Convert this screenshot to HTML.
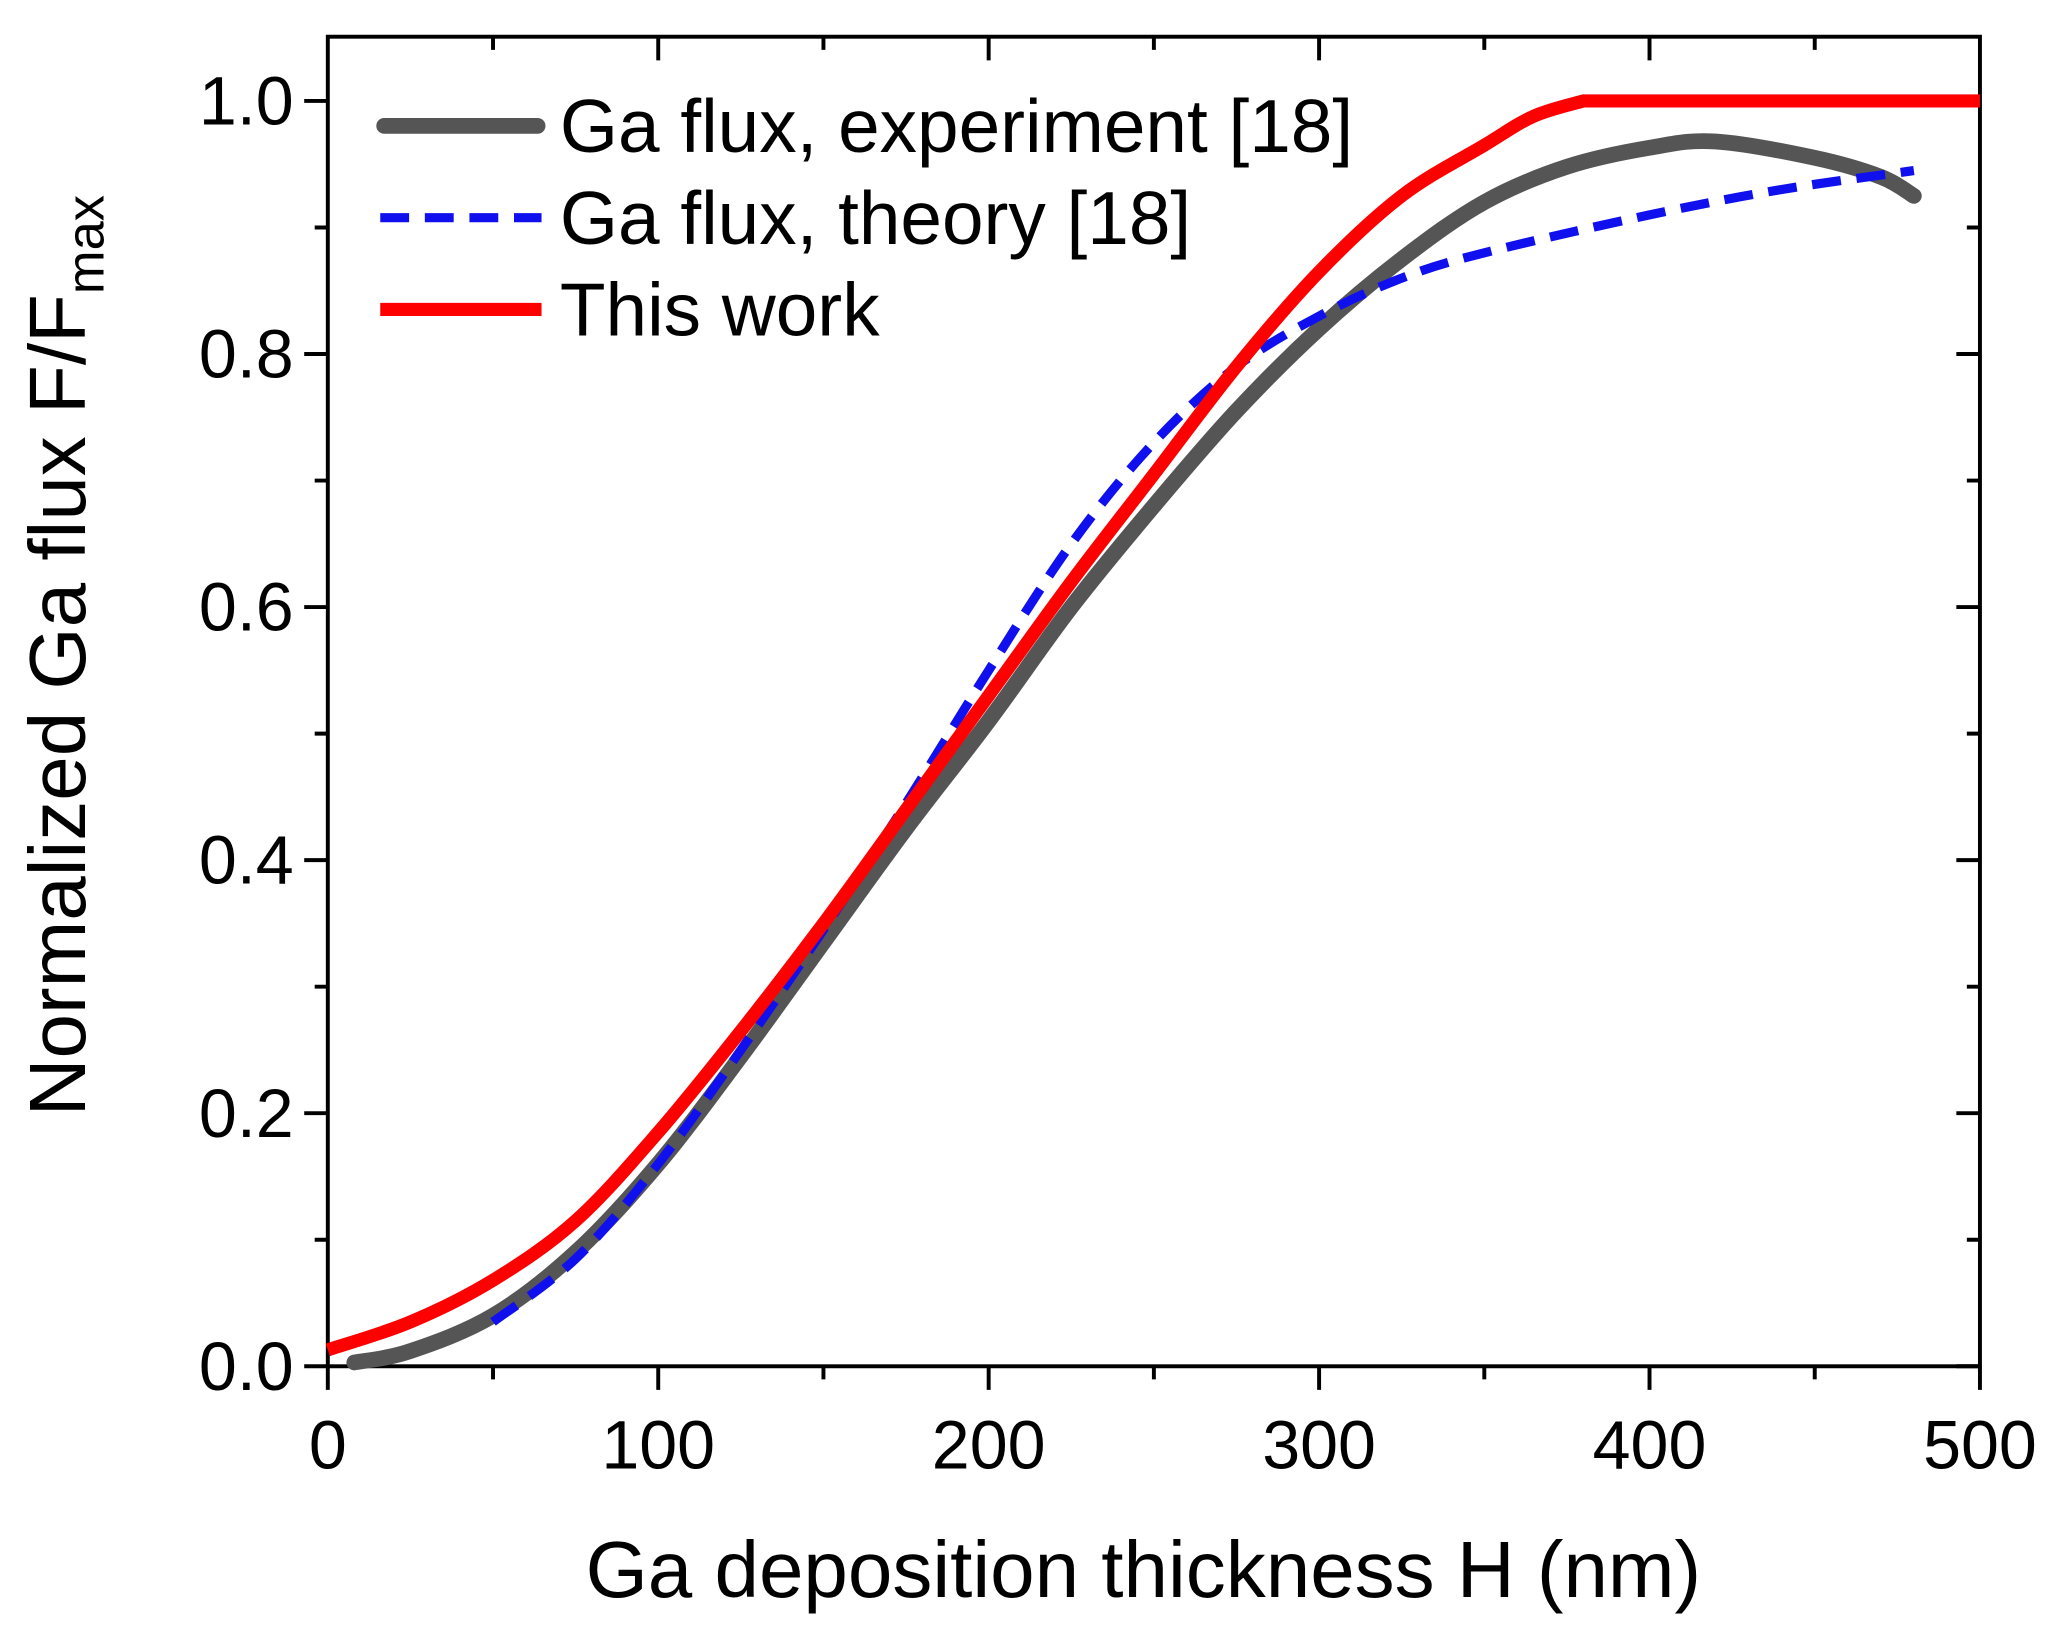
<!DOCTYPE html>
<html><head><style>html,body{margin:0;padding:0;background:#fff}svg{display:block}</style></head>
<body>
<svg id="s" width="2056" height="1639" viewBox="0 0 1568 1250" preserveAspectRatio="none" xmlns="http://www.w3.org/2000/svg" font-family="Liberation Sans, sans-serif">
<rect width="1568" height="1250" fill="#fff"/>
<g stroke="#000" stroke-width="3">
<rect x="250" y="28" width="1260" height="1014" fill="none"/>
<path d="M232 1042H250M232 849H250M232 656H250M232 463H250M232 270H250M232 77H250
M240 945.5H250M240 752.5H250M240 559.5H250M240 366.5H250M240 173.5H250
M1492 1042H1510M1492 849H1510M1492 656H1510M1492 463H1510M1492 270H1510M1492 77H1510
M1500 945.5H1510M1500 752.5H1510M1500 559.5H1510M1500 366.5H1510M1500 173.5H1510"/>
<path d="M250 1042V1060M502 1042V1060M754 1042V1060M1006 1042V1060M1258 1042V1060M1510 1042V1060
M376 1042V1052M628 1042V1052M880 1042V1052M1132 1042V1052M1384 1042V1052
M502 28V46M754 28V46M1006 28V46M1258 28V46M376 28V38M628 28V38M880 28V38M1132 28V38M1384 28V38"/>
</g>
<g font-size="52" fill="#000" text-anchor="end">
<text x="224" y="1060">0.0</text><text x="224" y="867">0.2</text><text x="224" y="674">0.4</text>
<text x="224" y="481">0.6</text><text x="224" y="288">0.8</text><text x="224" y="95">1.0</text>
</g>
<g font-size="52" fill="#000" text-anchor="middle">
<text x="250" y="1120">0</text><text x="502" y="1120">100</text><text x="754" y="1120">200</text>
<text x="1006" y="1120">300</text><text x="1258" y="1120">400</text><text x="1510" y="1120">500</text>
</g>
<text x="872" y="1218" font-size="61" text-anchor="middle">Ga deposition thickness H (nm)</text>
<text transform="translate(65 500) rotate(-90)" font-size="61" text-anchor="middle">Normalized Ga flux F/F<tspan font-size="40" dy="14">max</tspan></text>
<path id="g" fill="none" stroke="#555" stroke-width="12" stroke-linecap="round"/>
<path id="b" fill="none" stroke="#1010ee" stroke-width="7" stroke-dasharray="22 12"/>
<path id="r" fill="none" stroke="#ff0000" stroke-width="10"/>
<line x1="293" y1="96" x2="410" y2="96" stroke="#555" stroke-width="12" stroke-linecap="round"/>
<text x="427" y="116" font-size="57">Ga flux, experiment [18]</text>
<line x1="290" y1="166" x2="413" y2="166" stroke="#1010ee" stroke-width="7" stroke-dasharray="22 12"/>
<text x="427" y="186" font-size="57">Ga flux, theory [18]</text>
<line x1="290" y1="236" x2="413" y2="236" stroke="#ff0000" stroke-width="10"/>
<text x="427" y="256" font-size="57">This work</text>
</svg>
<script>
function P(pts){var p=pts.map(function(a){return [250+a[0]*2.52,1042-a[1]*965];});
var d="M"+p[0][0].toFixed(1)+" "+p[0][1].toFixed(1);
for(var i=0;i<p.length-1;i++){var p0=p[i-1]||p[i],p1=p[i],p2=p[i+1],p3=p[i+2]||p2;
d+="C"+(p1[0]+(p2[0]-p0[0])/6).toFixed(1)+" "+(p1[1]+(p2[1]-p0[1])/6).toFixed(1)+" "+(p2[0]-(p3[0]-p1[0])/6).toFixed(1)+" "+(p2[1]-(p3[1]-p1[1])/6).toFixed(1)+" "+p2[0].toFixed(1)+" "+p2[1].toFixed(1);}
return d;}
document.getElementById("r").setAttribute("d",P([[0,0.013],[25,0.035],[50,0.068],[75,0.115],[100,0.185],[125,0.265],[150,0.35],[175,0.44],[200,0.53],[225,0.62],[250,0.705],[275,0.79],[300,0.865],[325,0.925],[350,0.965],[365,0.988],[380,1.0]])+" L1510 77");
document.getElementById("g").setAttribute("d",P([[8,0.003],[25,0.012],[50,0.04],[75,0.09],[100,0.16],[125,0.245],[150,0.335],[175,0.425],[200,0.51],[225,0.6],[250,0.68],[275,0.755],[300,0.82],[325,0.875],[350,0.92],[375,0.948],[400,0.963],[420,0.968],[450,0.955],[470,0.94],[480,0.925]]));
document.getElementById("b").setAttribute("d",P([[50,0.035],[75,0.085],[100,0.16],[125,0.25],[150,0.345],[175,0.445],[200,0.55],[225,0.65],[250,0.73],[275,0.79],[300,0.83],[325,0.86],[350,0.88],[400,0.91],[440,0.93],[480,0.945]]));
</script>
</body></html>
